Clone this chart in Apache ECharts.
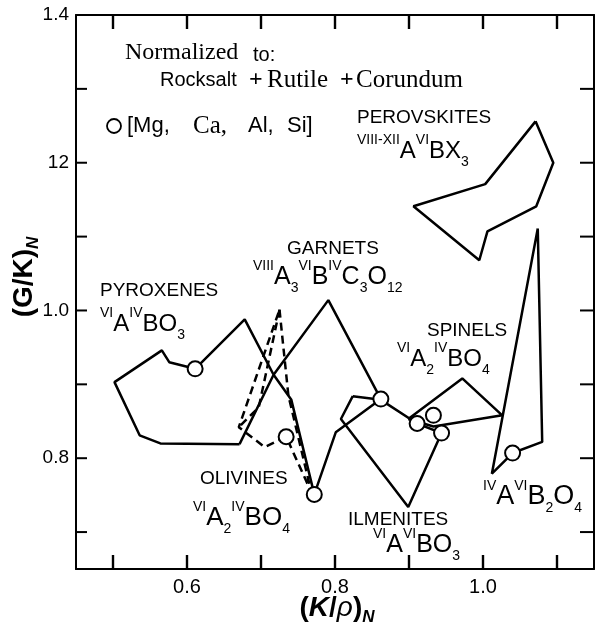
<!DOCTYPE html>
<html>
<head>
<meta charset="utf-8">
<script src="https://cdn.jsdelivr.net/npm/echarts@6/dist/echarts.min.js"></script>
<style>
html,body{margin:0;padding:0;background:#fff;}
#c{width:595px;height:641px;}
</style>
</head>
<body>
<div id="c"></div>
<script>
// ---- data ----
const xMin = 0.45, xMax = 1.15, yMin = 0.65, yMax = 1.4;
const xTickValues = [0.5, 0.6, 0.7, 0.8, 0.9, 1.0, 1.1];
const xLabelValues = [0.6, 0.8, 1.0];
const yTickValues = [0.7, 0.8, 0.9, 1.0, 1.1, 1.2, 1.3];
const yLabelValues = [0.8, 1.0, 1.2, 1.4];
const yLabelText = ['0.8', '1.0', '12', '1.4'];

const pyroxenes = [[0.671,0.819],[0.564,0.820],[0.536,0.831],[0.502,0.903],[0.566,0.946],[0.576,0.930],[0.611,0.921],[0.678,0.988],[0.717,0.913],[0.671,0.819]];
const garnets = [[0.717,0.913],[0.791,1.014],[0.862,0.880],[0.801,0.835],[0.772,0.751],[0.741,0.879],[0.717,0.913]];
const ilmenites = [[0.824,0.884],[0.808,0.853],[0.899,0.734],[0.944,0.834],[0.911,0.847],[0.862,0.879],[0.824,0.884]];
const spinels = [[0.899,0.853],[0.972,0.908],[1.026,0.858],[0.933,0.843],[0.899,0.853]];
const inverseSpinels = [[1.074,1.111],[1.080,0.822],[1.040,0.807],[1.012,0.779],[1.074,1.111]];
const perovskites = [[1.071,1.256],[1.095,1.200],[1.072,1.141],[1.006,1.107],[0.995,1.068],[0.906,1.141],[1.003,1.171],[1.071,1.256]];
const olivines = [[0.725,1.001],[0.737,0.885],[0.768,0.754],[0.734,0.829],[0.705,0.815],[0.670,0.842],[0.725,1.001]];
const olivinesInner = [[0.725,1.001],[0.697,0.869],[0.670,0.842]];
const mgCaAlSi = [[0.611,0.921],[0.734,0.829],[0.772,0.751],[0.862,0.880],[0.911,0.847],[0.933,0.858],[0.944,0.834],[1.040,0.807]];

// ---- styling ----
const SANS = 'Liberation Sans', SERIF = 'Liberation Serif';
const chart = echarts.init(document.getElementById('c'), null, {renderer: 'canvas'});

function solid(name, data) {
  return {name, type: 'line', data, symbol: 'none', z: 2, silent: true,
    lineStyle: {color: '#000', width: 2.5}, animation: false};
}
function dashed(name, data) {
  return {name, type: 'line', data, symbol: 'none', z: 2, silent: true,
    lineStyle: {color: '#000', width: 2.5, type: [8, 5]}, animation: false};
}

function fRich(size) {
  return {
    n: {fontFamily: SANS, fontSize: size, lineHeight: 36, verticalAlign: 'middle'},
    p: {fontFamily: SANS, fontSize: 14, lineHeight: 18, verticalAlign: 'top'},
    b: {fontFamily: SANS, fontSize: 14, lineHeight: 18, verticalAlign: 'bottom'}
  };
}
function txt(x, y, text, font, extra) {
  return {type: 'text', x, y, z: 10, silent: true,
    style: Object.assign({text, fill: '#000', font, textAlign: 'left', textVerticalAlign: 'middle'}, extra || {})};
}
function formula(x, y, text, size) {
  return {type: 'text', x, y, z: 10, silent: true,
    style: {text, fill: '#000', rich: fRich(size || 24), textAlign: 'left', textVerticalAlign: 'middle'}};
}
const nameFont = '19px "Liberation Sans"';

const graphics = [
  txt(125, 53, 'Normalized', '24px "Liberation Serif"'),
  txt(253, 55, 'to:', '20px "Liberation Sans"'),
  txt(160, 80, 'Rocksalt', '20px "Liberation Sans"'),
  txt(249, 80, '+', 'bold 24px "Liberation Serif"'),
  txt(267, 80, 'Rutile', '25px "Liberation Serif"'),
  txt(340, 80, '+', 'bold 24px "Liberation Serif"'),
  txt(356, 80, 'Corundum', '25px "Liberation Serif"'),
  {type: 'circle', shape: {cx: 114, cy: 126, r: 7}, z: 10, silent: true,
    style: {fill: '#fff', stroke: '#000', lineWidth: 1.8}},
  txt(127, 126, '[Mg,', '22px "Liberation Sans"'),
  txt(193, 126, 'Ca,', '25px "Liberation Serif"'),
  txt(248, 126, 'Al,', '22px "Liberation Sans"'),
  txt(287, 126, 'Si]', '22px "Liberation Sans"'),

  txt(357, 118, 'PEROVSKITES', nameFont),
  formula(357, 151, '{p|VIII-XII}{n|A}{p|VI}{n|BX}{b|3}'),
  txt(287, 249, 'GARNETS', nameFont),
  formula(253, 277, '{p|VIII}{n|A}{b|3}{p|VI}{n|B}{p|IV}{n|C}{b|3}{n|O}{b|12}', 25),
  txt(100, 291, 'PYROXENES', nameFont),
  formula(100, 324, '{p|VI}{n|A}{p|IV}{n|BO}{b|3}'),
  txt(427, 331, 'SPINELS', nameFont),
  formula(397, 359, '{p|VI}{n|A}{b|2}{p|IV}{n|BO}{b|4}'),
  txt(200, 479, 'OLIVINES', nameFont),
  formula(193, 518, '{p|VI}{n|A}{b|2}{p|IV}{n|BO}{b|4}', 26),
  txt(348, 520, 'ILMENITES', nameFont),
  formula(373, 545, '{p|VI}{n|A}{p|VI}{n|BO}{b|3}', 25),
  formula(483, 497, '{p|IV}{n|A}{p|VI}{n|B}{b|2}{n|O}{b|4}', 27),

  {type: 'text', x: 337, y: 608, z: 10, silent: true,
    style: {text: '{b|(}{bi|K}{b|/}{r|ρ}{b|)}{s|N}', fill: '#000', textAlign: 'center', textVerticalAlign: 'middle',
      rich: {
        b: {fontFamily: SANS, fontWeight: 'bold', fontSize: 28, lineHeight: 36, verticalAlign: 'middle'},
        bi: {fontFamily: SANS, fontWeight: 'bold', fontStyle: 'italic', fontSize: 28, lineHeight: 36, verticalAlign: 'middle'},
        r: {fontFamily: SANS, fontStyle: 'italic', fontSize: 28, lineHeight: 36, verticalAlign: 'middle'},
        s: {fontFamily: SANS, fontWeight: 'bold', fontStyle: 'italic', fontSize: 17, lineHeight: 20, verticalAlign: 'bottom'}
      }}},
  {type: 'text', x: 24, y: 277, rotation: Math.PI / 2, z: 10, silent: true,
    style: {text: '{b|(G/K)}{s|N}', fill: '#000', textAlign: 'center', textVerticalAlign: 'middle',
      rich: {
        b: {fontFamily: SANS, fontWeight: 'bold', fontSize: 28, lineHeight: 36, verticalAlign: 'middle'},
        s: {fontFamily: SANS, fontWeight: 'bold', fontStyle: 'italic', fontSize: 17, lineHeight: 20, verticalAlign: 'bottom'}
      }}}
];

// tick marks on y axes: custom series through api.coord
const TW = 2;
const tickRect = (x, y, w, h) => ({type: 'rect', shape: {x, y, width: w, height: h}, style: {fill: '#000'}});
const yTickSeries = {
  type: 'custom', name: 'yTicks', silent: true, z: 3, clip: false,
  data: yTickValues.map(v => [0.8, v]),
  renderItem: (params, api) => {
    const v = yTickValues[params.dataIndex];
    const l = api.coord([xMin, v]), r = api.coord([xMax, v]);
    return {type: 'group', children: [
      tickRect(l[0], l[1] - TW / 2, 11, TW),
      tickRect(r[0] - 14, r[1] - TW / 2, 14, TW)
    ]};
  }
};
// tick marks on x axes: thin rect symbols of a scatter series, anchored on the axis values
function xTickScatter(name, yv, offsetY) {
  return {type: 'scatter', name, silent: true, z: 3, clip: false,
    data: xTickValues.map(v => [v, yv]),
    symbol: 'rect', symbolSize: [2.4, 14], symbolOffset: [0, offsetY],
    itemStyle: {color: '#000', opacity: 1}};
}

const axisLine = {show: true, onZero: false, lineStyle: {color: '#000', width: 2}};
const option = {
  animation: false,
  backgroundColor: '#fff',
  grid: {left: 76, right: 1, top: 15, bottom: 72, containLabel: false},
  xAxis: [
    {type: 'value', position: 'bottom', min: xMin, max: xMax, splitNumber: 7,
      axisLine, axisTick: {show: false},
      axisLabel: {show: true, showMinLabel: false, showMaxLabel: false,
        formatter: v => xLabelValues.some(t => Math.abs(t - v) < 1e-6) ? v.toFixed(1) : '',
        fontFamily: SANS, fontSize: 20, color: '#000', margin: 8},
      splitLine: {show: false}},
    {type: 'value', position: 'top', min: xMin, max: xMax, splitNumber: 7,
      axisLine, axisTick: {show: false}, axisLabel: {show: false}, splitLine: {show: false}}
  ],
  yAxis: [
    {type: 'value', position: 'left', min: yMin, max: yMax, splitNumber: 8,
      axisLine, axisTick: {show: false},
      axisLabel: {show: true,
        formatter: v => { const i = yLabelValues.findIndex(t => Math.abs(t - v) < 1e-6); return i >= 0 ? yLabelText[i] : ''; },
        fontFamily: SANS, fontSize: 19, color: '#000', margin: 7},
      splitLine: {show: false}},
    {type: 'value', position: 'right', min: yMin, max: yMax, splitNumber: 8,
      axisLine, axisTick: {show: false}, axisLabel: {show: false}, splitLine: {show: false}}
  ],
  series: [
    solid('Pyroxenes', pyroxenes),
    solid('Garnets', garnets),
    solid('Ilmenites', ilmenites),
    solid('Spinels', spinels),
    solid('IV-A VI-B2O4', inverseSpinels),
    solid('Perovskites', perovskites),
    dashed('Olivines', olivines),
    dashed('Olivines inner', olivinesInner),
    {name: '[Mg, Ca, Al, Si]', type: 'scatter', data: mgCaAlSi, symbol: 'circle', symbolSize: 15, z: 5,
      itemStyle: {color: '#fff', borderColor: '#000', borderWidth: 2, opacity: 1}, silent: true},
    yTickSeries,
    xTickScatter('xTicksBottom', yMin, -7),
    xTickScatter('xTicksTop', yMax, 7)
  ],
  graphic: graphics
};
chart.setOption(option);
</script>
</body>
</html>
